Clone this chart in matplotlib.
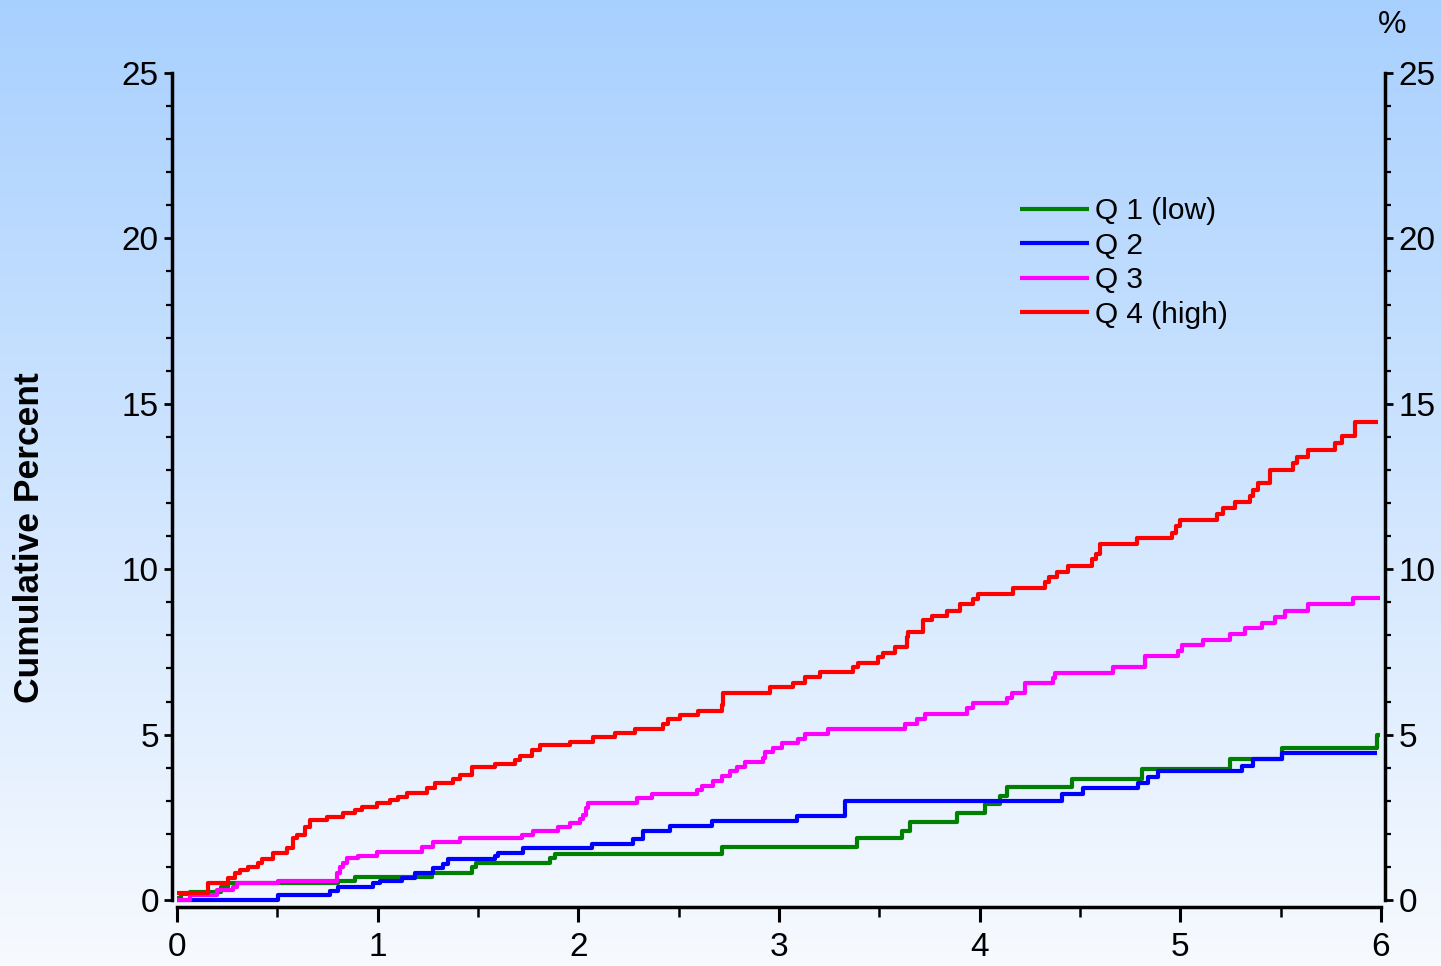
import numpy as np
import matplotlib
matplotlib.use("Agg")
import matplotlib.pyplot as plt

plt.rcParams['font.family'] = ['Liberation Sans', 'DejaVu Sans']

# Q 1 (low) - event times (years) and cumulative percent after each step
q1_t = [0, 0.02, 0.065, 0.22, 0.254, 0.80, 0.887, 1.269, 1.468, 1.49, 1.859, 1.884,
        2.716, 3.389, 3.613, 3.653, 3.887, 4.026, 4.101, 4.136, 4.46, 4.809, 5.247,
        5.507, 5.98]
q1_y = [0.05, 0.18, 0.24, 0.39, 0.51, 0.57, 0.7, 0.81, 1.0, 1.12, 1.27, 1.39,
        1.6, 1.87, 2.09, 2.35, 2.62, 2.89, 3.14, 3.41, 3.66, 3.96, 4.26,
        4.6, 4.99]
q1_end = 5.995

# Q 2
q2_t = [0, 0.505, 0.762, 0.804, 0.978, 1.012, 1.12, 1.186, 1.277, 1.327, 1.352,
        1.585, 1.601, 1.726, 2.068, 2.272, 2.322, 2.457, 2.666, 3.09, 3.329,
        4.41, 4.515, 4.789, 4.839, 4.889, 5.307, 5.362, 5.507]
q2_y = [0.0, 0.15, 0.27, 0.39, 0.51, 0.57, 0.67, 0.81, 0.97, 1.1, 1.24,
        1.33, 1.41, 1.56, 1.69, 1.83, 2.09, 2.24, 2.39, 2.54, 2.99,
        3.2, 3.38, 3.54, 3.72, 3.9, 4.05, 4.26, 4.44]
q2_end = 5.98

# Q 3
q3_t = [0, 0.065, 0.198, 0.28, 0.297, 0.505, 0.796, 0.812, 0.829, 0.846, 0.904,
        0.995, 1.219, 1.277, 1.41, 1.718, 1.776, 1.9, 1.958, 2.008, 2.025, 2.04,
        2.048, 2.292, 2.367, 2.591, 2.616, 2.671, 2.716, 2.756, 2.791, 2.831,
        2.92, 2.93, 2.97, 3.015, 3.095, 3.13, 3.244, 3.628, 3.688, 3.728,
        3.937, 3.967, 4.136, 4.161, 4.226, 4.365, 4.375, 4.664, 4.824, 4.99,
        5.008, 5.113, 5.247, 5.322, 5.407, 5.472, 5.522, 5.636, 5.86]
q3_y = [0.0, 0.15, 0.3, 0.4, 0.51, 0.57, 0.82, 1.0, 1.12, 1.27, 1.33,
        1.45, 1.6, 1.75, 1.87, 1.96, 2.09, 2.21, 2.33, 2.45, 2.57, 2.78,
        2.93, 3.08, 3.2, 3.33, 3.45, 3.6, 3.75, 3.9, 4.02, 4.17,
        4.3, 4.47, 4.6, 4.75, 4.87, 5.02, 5.17, 5.32, 5.47, 5.62,
        5.8, 5.95, 6.11, 6.26, 6.56, 6.7, 6.86, 7.04, 7.38, 7.53,
        7.71, 7.86, 8.04, 8.22, 8.37, 8.56, 8.74, 8.95, 9.13]
q3_end = 5.995

# Q 4 (high)
q4_t = [0, 0.154, 0.254, 0.289, 0.314, 0.354, 0.404, 0.424, 0.478, 0.548, 0.578,
        0.598, 0.638, 0.663, 0.747, 0.827, 0.887, 0.922, 0.997, 1.061, 1.101,
        1.146, 1.246, 1.286, 1.375, 1.41, 1.47, 1.585, 1.684, 1.709, 1.769,
        1.809, 1.958, 2.073, 2.183, 2.282, 2.422, 2.447, 2.507, 2.596, 2.716,
        2.72, 2.955, 3.07, 3.13, 3.204, 3.369, 3.394, 3.493, 3.518, 3.578,
        3.638, 3.643, 3.718, 3.762, 3.837, 3.902, 3.967, 3.992, 4.166, 4.326,
        4.345, 4.385, 4.44, 4.56, 4.58, 4.60, 4.784, 4.958, 4.978, 4.998,
        5.183, 5.213, 5.272, 5.347, 5.362, 5.387, 5.447, 5.561, 5.581, 5.636,
        5.771, 5.805, 5.87]
q4_y = [0.2, 0.5, 0.67, 0.82, 0.91, 1.0, 1.12, 1.24, 1.42, 1.57, 1.87,
        1.96, 2.21, 2.42, 2.51, 2.63, 2.72, 2.81, 2.93, 3.02, 3.11,
        3.23, 3.39, 3.54, 3.66, 3.78, 4.02, 4.11, 4.23, 4.35, 4.53,
        4.69, 4.78, 4.93, 5.05, 5.17, 5.32, 5.47, 5.59, 5.71, 5.89,
        6.26, 6.44, 6.56, 6.74, 6.89, 7.04, 7.16, 7.35, 7.47, 7.65,
        7.95, 8.10, 8.46, 8.58, 8.74, 8.95, 9.10, 9.25, 9.43, 9.62,
        9.77, 9.92, 10.10, 10.3, 10.45, 10.76, 10.94, 11.1, 11.3, 11.49,
        11.67, 11.85, 12.03, 12.21, 12.39, 12.61, 13.0, 13.21, 13.39, 13.6,
        13.82, 14.03, 14.45]
q4_end = 5.985

labels = ["Q 1 (low)", "Q 2", "Q 3", "Q 4 (high)"]
colors = ["#008000", "#0000ff", "#ff00ff", "#ff0000"]

fig = plt.figure(figsize=(14.41, 9.66), dpi=100)

# gradient background
bg = fig.add_axes([0, 0, 1, 1], zorder=-10)
top = np.array([168, 208, 254]) / 255
bot = np.array([247, 250, 255]) / 255
g = np.linspace(0, 1, 256)[:, None, None]
img = top + (bot - top) * g
bg.imshow(img, aspect='auto', extent=[0, 1, 0, 1], origin='upper')
bg.axis('off')

ax = fig.add_axes([177 / 1441, 66 / 966, 1204 / 1441, 827 / 966])
ax.patch.set_alpha(0)

series = [(q1_t, q1_y, q1_end), (q2_t, q2_y, q2_end),
          (q3_t, q3_y, q3_end), (q4_t, q4_y, q4_end)]
for (t, y, end), lab, c in zip(series, labels, colors):
    ax.step(np.r_[t, end], np.r_[y, y[-1]], where='post', color=c, lw=3.0,
            label=lab, clip_on=False, solid_capstyle='butt')

ax.set_xlim(0, 6)
ax.set_ylim(0, 25)
ax.set_xticks(range(7))
ax.set_xticks(np.arange(0.5, 6, 1), minor=True)
ax.set_yticks(range(0, 26, 5))
ax.set_yticks(range(0, 26), minor=True)

ax.tick_params(axis='y', which='both', direction='out', left=True, right=True,
               labelleft=True, labelright=True)
ax.tick_params(axis='y', which='major', length=5.5, width=2, labelsize=24, pad=4)
ax.tick_params(axis='y', which='minor', length=4, width=1.6)
ax.tick_params(axis='x', which='major', direction='out', length=11, width=2.2,
               labelsize=24, pad=7)
ax.tick_params(axis='x', which='minor', direction='out', length=7, width=1.8)

ax.spines['top'].set_visible(False)
ax.spines['left'].set_position(('outward', 3.6))
ax.spines['bottom'].set_position(('outward', 5))
ax.spines['right'].set_position(('outward', 3))
for s in ['left', 'bottom', 'right']:
    ax.spines[s].set_linewidth(2.5)

ax.legend(loc='upper left', bbox_to_anchor=(1020 / 1441, 1 - 197 / 966),
          bbox_transform=fig.transFigure, frameon=False, fontsize=21.5,
          handlelength=2.3, handletextpad=0.22, labelspacing=0.22,
          borderpad=0, borderaxespad=0)

fig.text(30 / 1441, 1 - 538 / 966, 'Cumulative Percent', rotation=90,
         fontsize=25.5, fontweight='bold', ha='center', va='center')
fig.text(1392 / 1441, 1 - 25 / 966, '%', fontsize=23, ha='center', va='center')

fig.savefig('out.png', dpi=100)
